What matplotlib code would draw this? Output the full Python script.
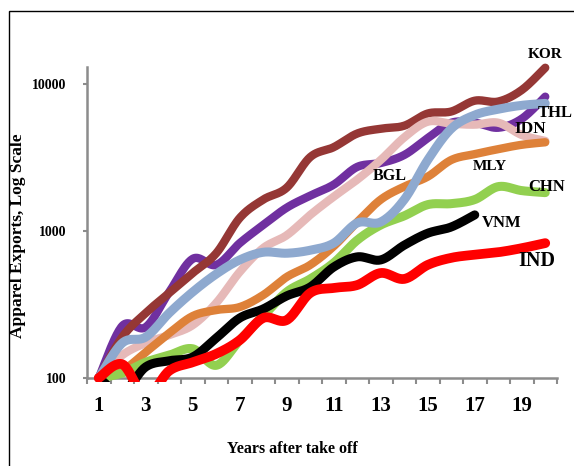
import numpy as np
import matplotlib
matplotlib.use("Agg")
import matplotlib.pyplot as plt
from matplotlib.patches import Rectangle

plt.rcParams["font.family"] = ["Liberation Serif", "DejaVu Serif"]
plt.rcParams["font.weight"] = "bold"

# Apparel exports after take-off (index, log scale)
years = list(range(1, 21))
kor = [100, 190, 277, 379, 518, 706, 1227, 1636, 1972, 3185, 3718, 4604, 4966, 5204, 6300, 6500, 7700, 7600, 9100, 12900]
thl = [100, 226, 222, 385, 647, 588, 827, 1099, 1441, 1740, 2068, 2730, 2900, 3290, 4290, 5450, 5450, 5040, 5800, 8200]
bgl = [100, 173, 190, 277, 385, 510, 636, 717, 706, 740, 827, 1134, 1152, 1636, 3042, 4966, 6150, 6740, 7160, 7380]
idn = [100, 143, 173, 196, 229, 324, 527, 766, 936, 1287, 1713, 2237, 3042, 4334, 5540, 5370, 5290, 5450, 4500, 4100]
mly = [100, 112, 150, 202, 264, 290, 304, 367, 487, 588, 788, 1152, 1636, 2004, 2343, 3042, 3336, 3605, 3860, 4014]
chn = [100, 108, 128, 143, 158, 122, 181, 264, 385, 472, 607, 867, 1099, 1268, 1511, 1535, 1636, 2004, 1882, 1824]
vnm = [100, 80, 119, 131, 139, 187, 256, 295, 362, 416, 569, 667, 636, 801, 966, 1065, 1287]
ind = [100, 124, 75, 112, 128, 146, 181, 256, 248, 379, 410, 429, 518, 472, 588, 657, 690, 717, 764, 827]

odd_labels = [str(y) for y in years if y % 2 == 1]


def smooth(xs, ys, n=24):
    # Excel-style smoothed line: cubic Bezier with Catmull-Rom tangents (log space)
    pts = np.column_stack([np.asarray(xs, float), np.log10(ys)])
    P = np.vstack([pts[0], pts, pts[-1]])
    t = np.linspace(0, 1, n)[:, None]
    segs = []
    for i in range(1, len(P) - 2):
        p0, p1, p2, p3 = P[i - 1], P[i], P[i + 1], P[i + 2]
        c1 = p1 + (p2 - p0) / 6
        c2 = p2 - (p3 - p1) / 6
        segs.append((1 - t) ** 3 * p1 + 3 * (1 - t) ** 2 * t * c1
                    + 3 * (1 - t) * t ** 2 * c2 + t ** 3 * p2)
    c = np.vstack(segs)
    return c[:, 0], 10 ** c[:, 1]


fig = plt.figure(figsize=(5.74, 4.66), dpi=100)
ax = fig.add_axes([87 / 574, 88 / 466, 470 / 574, 311 / 466])

series = [
    (thl, "#7030A0", 6.0, 1),
    (kor, "#953735", 6.0, 2),
    (idn, "#E6B9B8", 6.0, 3),
    (mly, "#DE8139", 6.0, 4),
    (chn, "#92D050", 6.5, 5),
    (vnm, "#000000", 6.5, 6),
    (bgl, "#8EA9CF", 6.5, 7),
    (ind, "#FF0000", 7.0, 8),
]
clip = Rectangle((0, -0.012), 1, 1.2, transform=ax.transAxes)
for vals, col, lw, z in series:
    sx, sy = smooth(years[:len(vals)], vals)
    ln, = ax.plot(sx, sy, color=col, lw=lw, solid_capstyle="round",
                  solid_joinstyle="round", zorder=z)
    ln.set_clip_path(clip)

ax.set_yscale("log")
ax.set_ylim(100, 10 ** (2 + 311 / 147))
ax.set_xlim(0.5, 20.5)
ax.set_yticks([100, 1000, 10000])
ax.set_yticklabels(["100", "1000", "10000"], fontsize=10, fontweight="bold")
ax.yaxis.set_minor_locator(matplotlib.ticker.NullLocator())
ax.set_xticks([y for y in years if y % 2 == 1])
ax.set_xticklabels(odd_labels, fontsize=15, fontweight="bold")
ax.set_xticks(np.arange(0.5, 21, 1), minor=True)
ax.tick_params(axis="x", which="major", length=0, pad=13)
ax.tick_params(axis="x", which="minor", length=4, width=1.5, color="#8c8c8c", direction="out")
ax.tick_params(axis="y", which="major", length=3, width=1.5, color="#8c8c8c", pad=12)

for s in ["top", "right"]:
    ax.spines[s].set_visible(False)
for s in ["left", "bottom"]:
    ax.spines[s].set_color("#8c8c8c")
    ax.spines[s].set_linewidth(1.8)
    ax.spines[s].set_zorder(0)

# series labels
labels = [
    ("KOR", 545, 55, 11),
    ("THL", 555, 113, 12),
    ("IDN", 530, 129, 12.5),
    ("BGL", 390, 176, 11.5),
    ("MLY", 490, 167, 11),
    ("CHN", 547, 187, 12),
    ("VNM", 502, 223, 12),
    ("IND", 537, 261, 14.5),
]
for txt, px, py, fs in labels:
    fig.text(px / 574, 1 - py / 466, txt, ha="center", va="center",
             fontsize=fs, fontweight="bold", zorder=20)

fig.text(18 / 574, 1 - 236 / 466, "Apparel Exports, Log Scale", rotation=90,
         ha="center", va="center", fontsize=12.5, fontweight="bold")
fig.text(292 / 574, 1 - 449 / 466, "Years after take off", ha="center",
         va="center", fontsize=11.5, fontweight="bold")

# chart border
fig.patches.append(Rectangle((9 / 574, -0.1), 1.2, (466 - 11) / 466 + 0.1,
                             transform=fig.transFigure, fill=False,
                             edgecolor="black", lw=1))

fig.savefig("out.png", dpi=100)
